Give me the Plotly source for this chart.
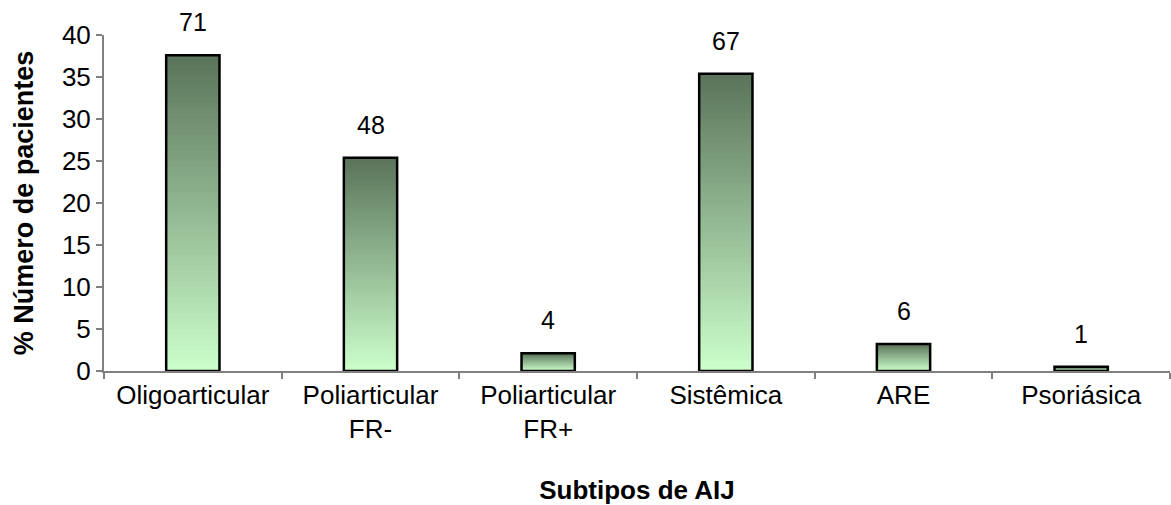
import plotly.graph_objects as go

# Subtipos de AIJ: share of patients (%) and patient counts
categories = ["Oligoarticular", "Poliarticular<br>FR-", "Poliarticular<br>FR+",
              "Sistêmica", "ARE", "Psoriásica"]
percent_values = [37.6, 25.4, 2.1, 35.4, 3.2, 0.5]
patient_counts = [71, 48, 4, 67, 6, 1]
y_ticks = [0, 5, 10, 15, 20, 25, 30, 35, 40]

FONT = "Liberation Sans, Arial, sans-serif"
TOP_RGB = (90, 115, 90)
BOTTOM_RGB = (204, 255, 204)
N_SLICES = 60

fig = go.Figure()

# Vertical gradient inside each bar: each slice runs from its own base up to the bar top,
# later (darker) slices cover the upper part, so no seams show between slices
for i in range(N_SLICES):
    t = (i + 0.5) / N_SLICES
    r, g, b = (round(BOTTOM_RGB[k] + (TOP_RGB[k] - BOTTOM_RGB[k]) * t) for k in range(3))
    fig.add_trace(go.Bar(
        x=categories,
        y=[v * (N_SLICES - i) / N_SLICES for v in percent_values],
        base=[v * i / N_SLICES for v in percent_values],
        marker=dict(color=f"rgb({r},{g},{b})", line=dict(width=0)),
        width=0.3,
        hoverinfo="skip",
        showlegend=False,
    ))

# Black outline of each bar
fig.add_trace(go.Bar(
    x=categories,
    y=percent_values,
    base=[0] * len(percent_values),
    marker=dict(color="rgba(0,0,0,0)", line=dict(color="black", width=2.5)),
    width=0.3,
    showlegend=False,
))

# Patient counts above the bars
for cat, v, n in zip(categories, percent_values, patient_counts):
    fig.add_annotation(x=cat, y=v, text=str(n), showarrow=False,
                       yanchor="bottom", yshift=17,
                       font=dict(family=FONT, size=25, color="black"))

fig.update_layout(
    width=1171, height=505,
    margin=dict(l=104, r=1, t=35, b=134),
    barmode="overlay",
    bargap=0.7,
    plot_bgcolor="white",
    paper_bgcolor="white",
    font=dict(family=FONT, size=26, color="black"),
    xaxis=dict(
        automargin=False,
        showline=True, linecolor="#808080", linewidth=2,
        ticks="outside", tickson="boundaries", ticklen=6, tickcolor="#808080", tickwidth=2,
        showgrid=False,
        tickfont=dict(family=FONT, size=26),
        title=dict(text="<b>Subtipos de AIJ</b>", font=dict(family=FONT, size=26), standoff=44),
    ),
    yaxis=dict(
        automargin=False,
        range=[0, 40], tickvals=y_ticks,
        showline=True, linecolor="#808080", linewidth=2,
        ticks="outside", ticklen=6, tickcolor="#808080", tickwidth=2,
        showgrid=False, zeroline=False,
        tickfont=dict(family=FONT, size=26),
        title=dict(text="<b>% Número de pacientes</b>", font=dict(family=FONT, size=27), standoff=20),
    ),
)

fig.write_html("out.html")
